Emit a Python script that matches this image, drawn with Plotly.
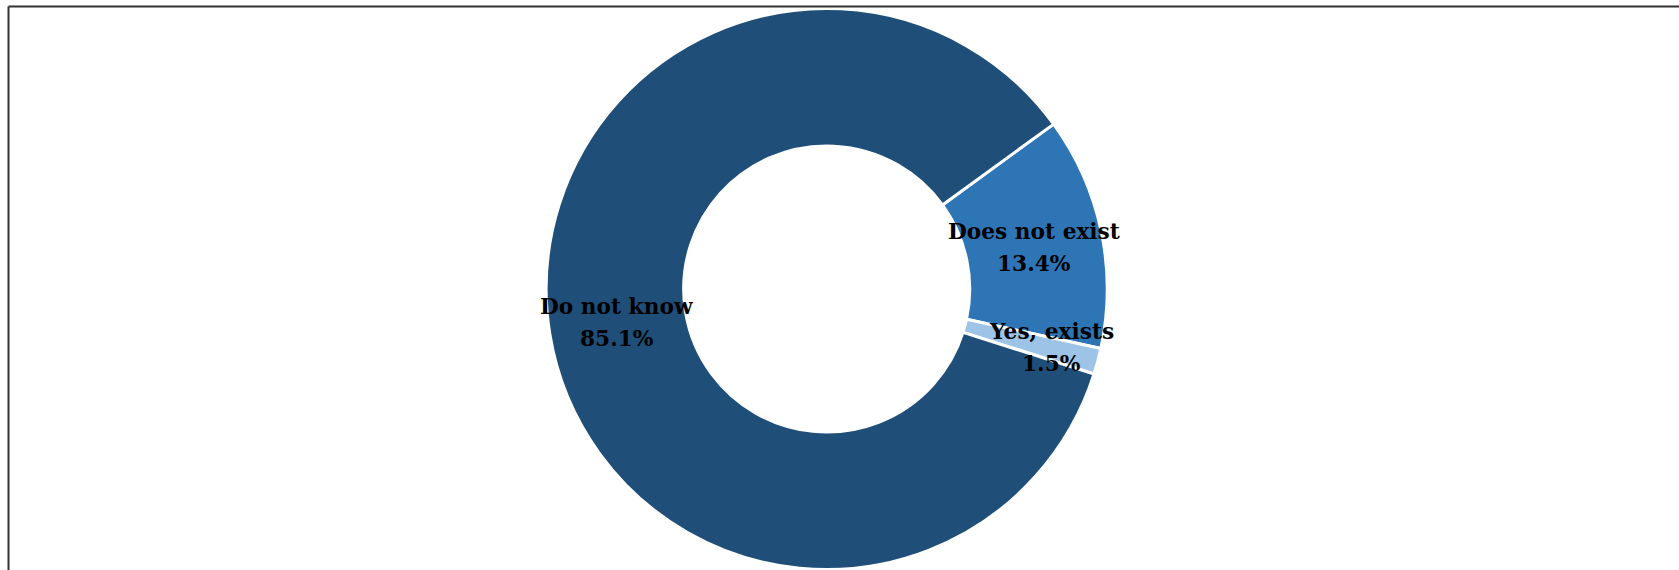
import math
import plotly.graph_objects as go

labels = ["Does not exist", "Yes, exists", "Do not know"]
values = [13.4, 1.5, 85.1]
colors = ["#2E75B6", "#9DC3E6", "#1F4E79"]

W, H = 1700, 570          # slightly wider than the window; the extra is cropped
cx, cy, r = 826.7, 289.0, 280.5
hole = 0.51
rotation = 54

fig = go.Figure(go.Pie(
    labels=labels,
    values=values,
    sort=False,
    direction="clockwise",
    rotation=rotation,
    hole=hole,
    marker=dict(colors=colors, line=dict(color="white", width=3)),
    textinfo="none",
    hoverinfo="label+percent",
    domain=dict(x=[(cx - r) / W, (cx + r) / W], y=[(H - (cy + r)) / H, (H - (cy - r)) / H]),
    showlegend=False,
))

# data labels placed at the middle of each ring segment
label_radius = [0.757, 0.83, 0.757]
label_dy = [2, -2, 0]
total = sum(values)
start = rotation
annotations = []
font = dict(family="DejaVu Serif", size=21.7, color="black")
for lab, val, rf, dy in zip(labels, values, label_radius, label_dy):
    sweep = val / total * 360
    mid = math.radians(start + sweep / 2)
    start += sweep
    px = cx + rf * r * math.sin(mid)
    py = cy - rf * r * math.cos(mid) + dy
    pct = f"{val / total * 100:.1f}%"
    annotations.append(dict(x=px / W, y=1 - (py - 16) / H, xref="paper", yref="paper",
                            text=f"<b>{lab}</b>", showarrow=False, font=font,
                            xanchor="center", yanchor="middle"))
    annotations.append(dict(x=px / W, y=1 - (py + 16) / H, xref="paper", yref="paper",
                            text=f"<b>{pct}</b>", showarrow=False, font=font,
                            xanchor="center", yanchor="middle"))

fx, fy = 8.5 / W, 1 - 6.5 / H
frame = dict(color="#333333", width=2)
fig.update_layout(
    width=W, height=H,
    margin=dict(l=0, r=0, t=0, b=0),
    paper_bgcolor="white",
    plot_bgcolor="white",
    annotations=annotations,
    shapes=[
        dict(type="line", xref="paper", yref="paper", x0=fx, x1=fx, y0=0, y1=fy, line=frame),
        dict(type="line", xref="paper", yref="paper", x0=fx, x1=1, y0=fy, y1=fy, line=frame),
    ],
)

fig.write_html("out.html", config={"displayModeBar": False},
               post_script="document.body.style.margin='0px';document.body.style.overflow='hidden';")
